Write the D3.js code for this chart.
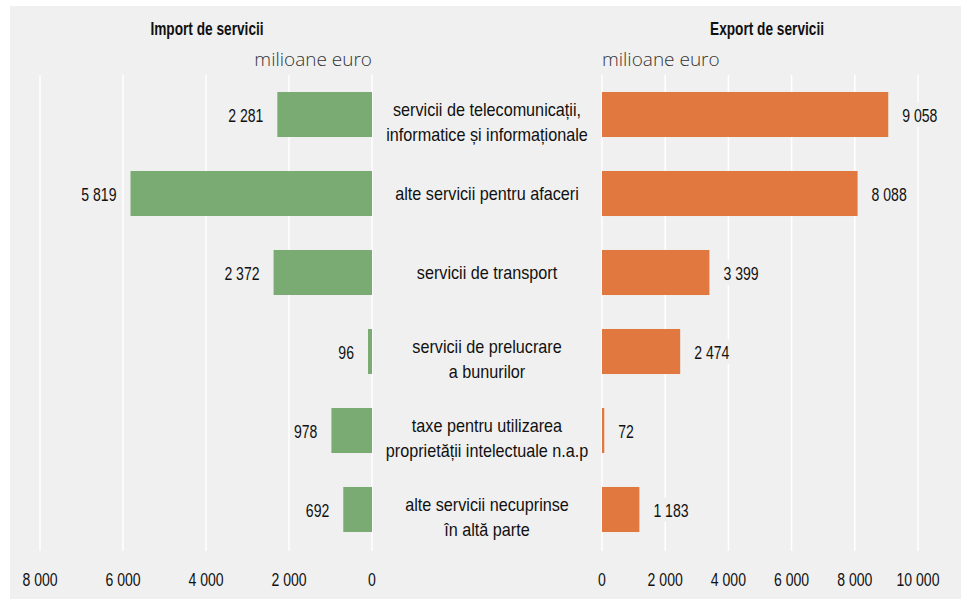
<!DOCTYPE html>
<html>
<head>
<meta charset="utf-8">
<script src="https://cdn.jsdelivr.net/npm/d3@7"></script>
<style>
  body { margin: 0; background: #fff; }
  text { font-family: "Liberation Sans", Arial, sans-serif; fill: #111; }
</style>
</head>
<body>
<div id="chart"></div>
<script>
// data
var categories = [
    ["servicii de telecomunicații,", "informatice și informaționale"],
    ["alte servicii pentru afaceri"],
    ["servicii de transport"],
    ["servicii de prelucrare", "a bunurilor"],
    ["taxe pentru utilizarea", "proprietății intelectuale n.a.p"],
    ["alte servicii necuprinse", "în altă parte"]
];
var importValues = [2281, 5819, 2372, 96, 978, 692];
var exportValues = [9058, 8088, 3399, 2474, 72, 1183];
var importTicks = [0, 2000, 4000, 6000, 8000];
var exportTicks = [0, 2000, 4000, 6000, 8000, 10000];

var width = 961, height = 599;
var bg = "#f0f0f0";

var locale = d3.formatLocale({ decimal: ",", thousands: " ", grouping: [3], currency: ["", ""] });
var fmt = locale.format(",d");

var svg = d3.select("#chart").append("svg")
    .attr("width", width)
    .attr("height", height);

svg.append("rect")
    .attr("x", 10).attr("y", 6)
    .attr("width", width - 10).attr("height", height - 6)
    .attr("fill", bg);

// scales
var xLeft = d3.scaleLinear().domain([0, 8000]).range([372, 40]);
var xRight = d3.scaleLinear().domain([0, 10000]).range([602, 918]);
var y = d3.scaleBand().domain(d3.range(categories.length)).range([75, 549]).paddingInner(0.43).paddingOuter(0.215);

var gridTop = 75, gridBottom = 551;

// condensed-looking text: squeeze horizontally
function addText(parent, x, yy, str, o) {
    var g = parent.append("g").attr("transform", "translate(" + x + "," + yy + ")");
    g.append("text")
        .attr("transform", "scale(" + (o.sx || 1) + ",1)")
        .attr("text-anchor", o.anchor || "middle")
        .style("font-size", (o.size || 18) + "px")
        .style("font-weight", o.weight || "normal")
        .text(str);
    return g;
}

// gridlines
svg.append("g").selectAll("line")
    .data(importTicks).enter().append("line")
    .attr("x1", function(d) { return xLeft(d); })
    .attr("x2", function(d) { return xLeft(d); })
    .attr("y1", gridTop).attr("y2", gridBottom)
    .attr("stroke", "#fff").attr("stroke-width", 1.5);

svg.append("g").selectAll("line")
    .data(exportTicks).enter().append("line")
    .attr("x1", function(d) { return xRight(d); })
    .attr("x2", function(d) { return xRight(d); })
    .attr("y1", gridTop).attr("y2", gridBottom)
    .attr("stroke", "#fff").attr("stroke-width", 1.5);

// bars
svg.append("g").selectAll("rect")
    .data(importValues).enter().append("rect")
    .attr("x", function(d) { return xLeft(d); })
    .attr("y", function(d, i) { return y(i); })
    .attr("width", function(d) { return xLeft(0) - xLeft(d); })
    .attr("height", y.bandwidth())
    .attr("fill", "#7aab72");

svg.append("g").selectAll("rect")
    .data(exportValues).enter().append("rect")
    .attr("x", xRight(0))
    .attr("y", function(d, i) { return y(i); })
    .attr("width", function(d) { return xRight(d) - xRight(0); })
    .attr("height", y.bandwidth())
    .attr("fill", "#e07840");

// value labels, with a background box that hides the gridlines
var numStyle = { size: 18.5, sx: 0.76 };
function valueLabels(values, scale, side) {
    var layer = svg.append("g");
    values.forEach(function(d, i) {
        var x = side < 0 ? scale(d) - 14 : scale(d) + 14;
        var g = addText(layer, x, y(i) + y.bandwidth() / 2 + 7, fmt(d),
            { size: numStyle.size, sx: numStyle.sx, anchor: side < 0 ? "end" : "start" });
        var b = g.node().getBBox();
        g.insert("rect", "text")
            .attr("x", b.x - 4).attr("y", b.y - 2)
            .attr("width", b.width + 8).attr("height", b.height + 4)
            .attr("fill", bg);
    });
}
valueLabels(importValues, xLeft, -1);
valueLabels(exportValues, xRight, 1);

// category labels
var catX = (xLeft(0) + xRight(0)) / 2;
var catLayer = svg.append("g");
categories.forEach(function(lines, i) {
    var mid = y(i) + y.bandwidth() / 2;
    var first = lines.length === 1 ? mid + 6 : mid + 1.5;
    lines.forEach(function(line, k) {
        addText(catLayer, catX, first + k * 24.5, line, { size: 18, sx: 0.9 });
    });
});

// tick labels
var tickLayer = svg.append("g");
importTicks.forEach(function(d) {
    addText(tickLayer, xLeft(d), 586, fmt(d), numStyle);
});
exportTicks.forEach(function(d) {
    addText(tickLayer, xRight(d), 586, fmt(d), numStyle);
});

// titles
addText(svg, 207, 35, "Import de servicii", { size: 19, sx: 0.72, weight: "bold" });
addText(svg, 767, 35, "Export de servicii", { size: 19, sx: 0.72, weight: "bold" });

// unit labels
svg.append("text")
    .attr("x", xLeft(0)).attr("y", 66)
    .attr("text-anchor", "end")
    .style("font-family", "'Open Sans', sans-serif")
    .style("font-weight", "300")
    .style("font-size", "19px")
    .style("fill", "#333")
    .text("milioane euro");

svg.append("text")
    .attr("x", xRight(0)).attr("y", 66)
    .attr("text-anchor", "start")
    .style("font-family", "'Open Sans', sans-serif")
    .style("font-weight", "300")
    .style("font-size", "19px")
    .style("fill", "#333")
    .text("milioane euro");
</script>
</body>
</html>
